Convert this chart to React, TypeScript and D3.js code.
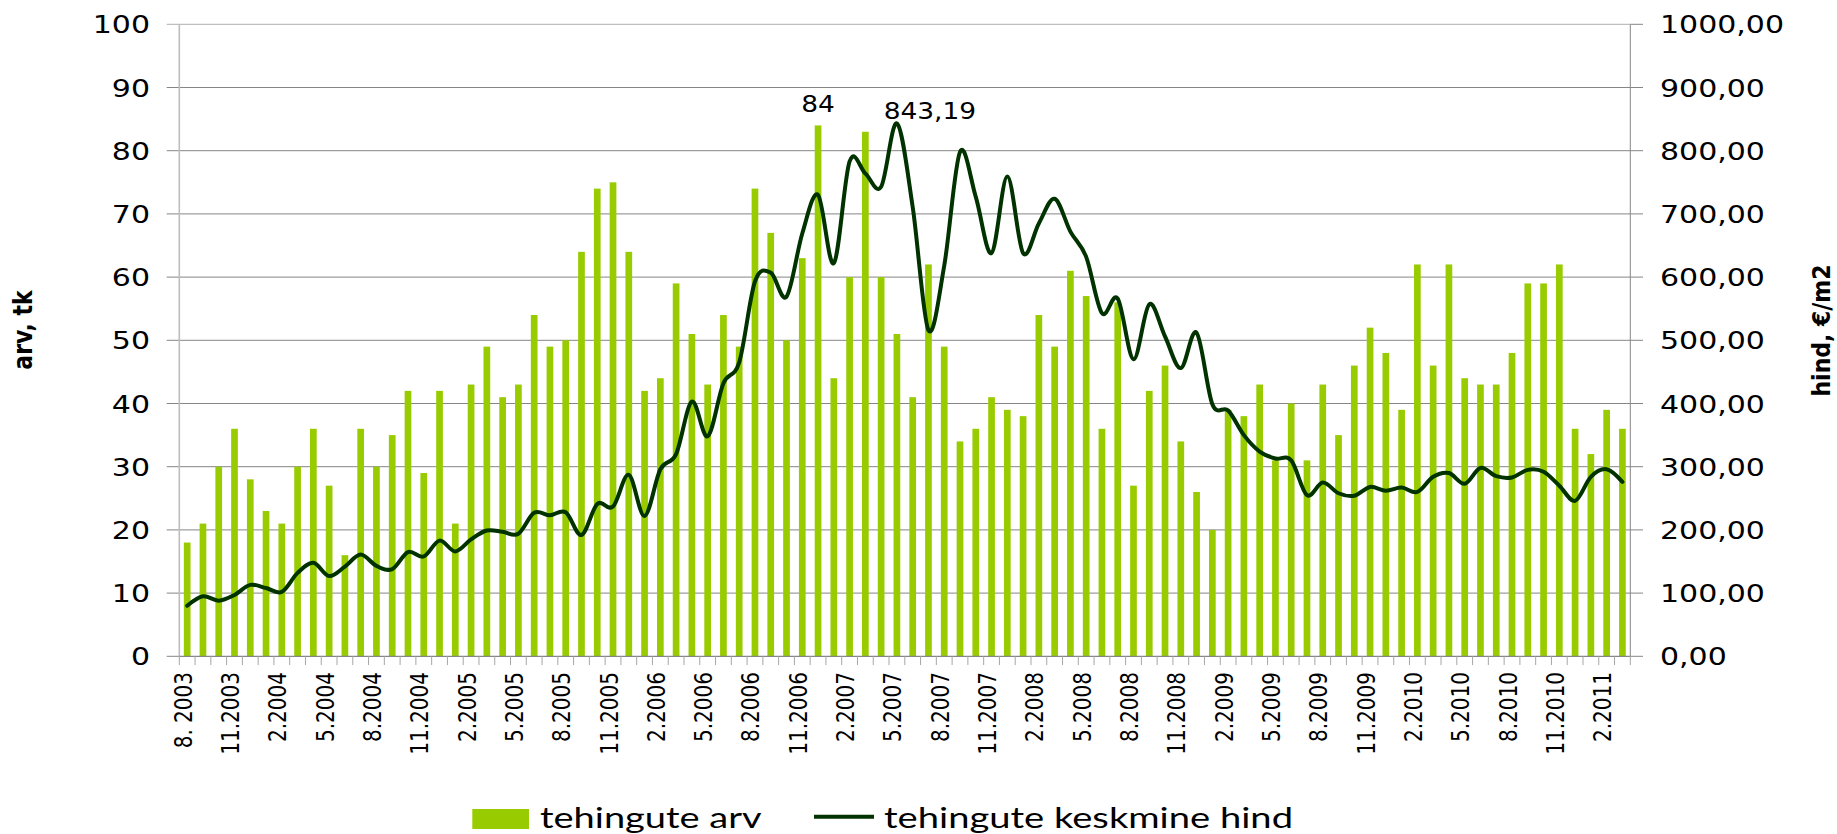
import React from "react";
import * as d3 from "d3";

const categories = [
  "8.2003","9.2003","10.2003","11.2003","12.2003",
  "1.2004","2.2004","3.2004","4.2004","5.2004","6.2004","7.2004","8.2004","9.2004","10.2004","11.2004","12.2004",
  "1.2005","2.2005","3.2005","4.2005","5.2005","6.2005","7.2005","8.2005","9.2005","10.2005","11.2005","12.2005",
  "1.2006","2.2006","3.2006","4.2006","5.2006","6.2006","7.2006","8.2006","9.2006","10.2006","11.2006","12.2006",
  "1.2007","2.2007","3.2007","4.2007","5.2007","6.2007","7.2007","8.2007","9.2007","10.2007","11.2007","12.2007",
  "1.2008","2.2008","3.2008","4.2008","5.2008","6.2008","7.2008","8.2008","9.2008","10.2008","11.2008","12.2008",
  "1.2009","2.2009","3.2009","4.2009","5.2009","6.2009","7.2009","8.2009","9.2009","10.2009","11.2009","12.2009",
  "1.2010","2.2010","3.2010","4.2010","5.2010","6.2010","7.2010","8.2010","9.2010","10.2010","11.2010","12.2010",
  "1.2011","2.2011","3.2011",
];

const tickLabels = [
  "8. 2003","11.2003","2.2004","5.2004","8.2004","11.2004","2.2005","5.2005","8.2005","11.2005",
  "2.2006","5.2006","8.2006","11.2006","2.2007","5.2007","8.2007","11.2007","2.2008","5.2008",
  "8.2008","11.2008","2.2009","5.2009","8.2009","11.2009","2.2010","5.2010","8.2010","11.2010","2.2011",
];

// tehingute arv (count of transactions)
const counts = [
  18,21,30,36,28,23,21,30,36,27,
  16,36,30,35,42,29,42,21,43,49,
  41,43,54,49,50,64,74,75,64,42,
  44,59,51,43,54,49,74,67,50,63,
  84,44,60,83,60,51,41,62,49,34,
  36,41,39,38,54,49,61,57,36,56,
  27,42,46,34,26,20,39,38,43,31,
  40,31,43,35,46,52,48,39,62,46,
  62,44,43,43,48,59,59,62,36,32,
  39,36,
];

// tehingute keskmine hind (average price, EUR/m2)
const prices = [
  80,95,88,97,113,108,102,132,148,127,
  142,161,143,138,165,158,183,166,185,199,
  197,194,227,223,228,192,241,237,287,222,
  296,320,403,348,432,465,593,607,569,669,
  730,622,783,764,743,843.19,711,516,618,798,
  727,638,759,638,685,724,672,632,543,566,
  470,557,506,456,512,399,389,350,324,313,
  310,255,275,258,254,268,262,267,260,284,
  290,273,298,285,283,295,292,270,246,284,
  296,276,
];

const leftTicks = [0,10,20,30,40,50,60,70,80,90,100];
const rightTicks = [0,100,200,300,400,500,600,700,800,900,1000];

const W = 1837, H = 834;
const X0 = 179.3, X1 = 1630.3, Y0 = 656.3, Y1 = 24.3;
const BAR = "#99CC00";
const LINE = "#003300";
const GRID = "#868686";

export default function App() {
  const x = d3.scaleBand<string>().domain(categories).range([X0, X1]).paddingInner(0.575).paddingOuter(0.2875);
  const yL = d3.scaleLinear().domain([0, 100]).range([Y0, Y1]);
  const yR = d3.scaleLinear().domain([0, 1000]).range([Y0, Y1]);
  const step = x.step();
  const cx = (i: number) => (x(categories[i]) as number) + x.bandwidth() / 2;

  const linePath = d3
    .line<number>()
    .x((_, i) => cx(i))
    .y((d) => yR(d))
    .curve(d3.curveCatmullRom.alpha(0))(prices) as string;

  const fmt2 = (v: number) => v.toFixed(2).replace(".", ",");
  const maxCountIdx = counts.indexOf(d3.max(counts) as number);
  const maxPriceIdx = prices.indexOf(d3.max(prices) as number);

  const font = "'DejaVu Sans', Verdana, sans-serif";
  const legendFont = "Lato, 'Open Sans', sans-serif";

  return (
    <div style={{ position: "absolute", left: 0, top: 0 }}>
      <svg width={W} height={H} style={{ display: "block", background: "#fff" }}>
        {/* gridlines + left ticks */}
        {leftTicks.map((t) =>
          t === 0 ? null : (
            <line key={"g" + t} x1={166.7} x2={X1} y1={yL(t)} y2={yL(t)} stroke={t === 100 ? "#b0b0b0" : GRID} strokeWidth={1} />
          )
        )}
        <line x1={166.7} x2={X0} y1={Y0} y2={Y0} stroke={GRID} />
        {/* right ticks */}
        {rightTicks.map((t) => (
          <line key={"rt" + t} x1={X1} x2={1643} y1={yR(t)} y2={yR(t)} stroke={GRID} />
        ))}
        {/* bars */}
        {counts.map((v, i) => (
          <rect key={"b" + i} x={x(categories[i]) as number} y={yL(v)} width={x.bandwidth()} height={Y0 - yL(v)} fill={BAR} />
        ))}
        {/* axes */}
        <line x1={X0} x2={X0} y1={Y1} y2={Y0} stroke="#bdbdbd" strokeWidth={1.6} />
        <line x1={X1} x2={X1} y1={Y1} y2={Y0} stroke={GRID} strokeWidth={1} />
        <line x1={X0} x2={X1} y1={Y0} y2={Y0} stroke={GRID} strokeWidth={1.2} />
        {d3.range(categories.length + 1).map((i) => (
          <line key={"xt" + i} x1={X0 + i * step} x2={X0 + i * step} y1={Y0} y2={665} stroke="#a6a6a6" strokeWidth={1} />
        ))}
        {/* price line */}
        <path d={linePath} fill="none" stroke={LINE} strokeWidth={4} strokeLinejoin="round" strokeLinecap="round" />

        {/* left tick labels */}
        {leftTicks.map((t) => (
          <g key={"lt" + t} transform={`translate(150,${yL(t) + 9.1}) scale(1.2,1)`}>
            <text textAnchor="end" fontFamily={font} fontSize={25} fill="#000">{t}</text>
          </g>
        ))}
        {/* right tick labels */}
        {rightTicks.map((t) => (
          <g key={"rl" + t} transform={`translate(1660,${yR(t) + 9.1}) scale(1.2,1)`}>
            <text textAnchor="start" fontFamily={font} fontSize={25} fill="#000">{fmt2(t)}</text>
          </g>
        ))}
        {/* x tick labels */}
        {tickLabels.map((lab, j) => (
          <g key={"xl" + j} transform={`translate(${cx(j * 3) + 4.5},672) scale(1.2,1) rotate(-90)`}>
            <text textAnchor="end" fontFamily={font} fontSize={20} fill="#000">{lab}</text>
          </g>
        ))}
        {/* axis titles */}
        <g transform={`translate(32,330) scale(1.2,1) rotate(-90)`}>
          <text textAnchor="middle" fontFamily={font} fontWeight="bold" fontSize={22} fill="#000">arv, tk</text>
        </g>
        <g transform={`translate(1829.5,330.5) scale(1.15,1) rotate(-90)`}>
          <text textAnchor="middle" fontFamily={font} fontWeight="bold" fontSize={22} fill="#000">hind, €/m2</text>
        </g>
        {/* data labels */}
        <g transform={`translate(${cx(maxCountIdx)},${yL(counts[maxCountIdx]) - 13.7}) scale(1.15,1)`}>
          <text textAnchor="middle" fontFamily={font} fontSize={23} fill="#000">{counts[maxCountIdx]}</text>
        </g>
        <g transform={`translate(${cx(maxPriceIdx) + 33},${yR(prices[maxPriceIdx]) - 4.4}) scale(1.15,1)`}>
          <text textAnchor="middle" fontFamily={font} fontSize={23} fill="#000">{fmt2(prices[maxPriceIdx])}</text>
        </g>
        {/* legend */}
        <rect x={472.3} y={809} width={56.7} height={20} fill={BAR} />
        <text x={540} y={827.7} fontFamily={legendFont} fontSize={29} textLength={221.7} lengthAdjust="spacingAndGlyphs" fill="#000">tehingute arv</text>
        <line x1={814} x2={874} y1={816.7} y2={816.7} stroke={LINE} strokeWidth={4} />
        <text x={884} y={827.7} fontFamily={legendFont} fontSize={29} textLength={409} lengthAdjust="spacingAndGlyphs" fill="#000">tehingute keskmine hind</text>
      </svg>
    </div>
  );
}
